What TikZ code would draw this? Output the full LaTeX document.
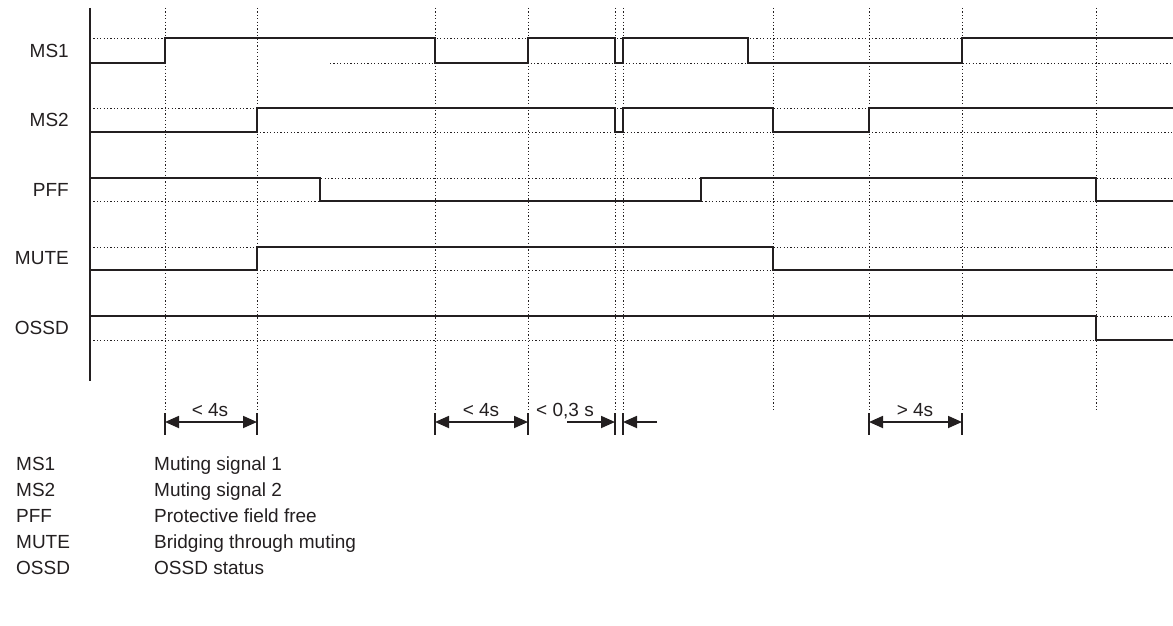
\documentclass[tikz,border=0pt]{standalone}
\usepackage{fontspec}
\setmainfont{Liberation Sans}
\usetikzlibrary{arrows.meta}
\definecolor{ink}{HTML}{231F20}
\begin{document}
\begin{tikzpicture}[x=1pt,y=-1pt,
  sig/.style={line width=1.8pt, draw=ink},
  grid/.style={line width=0.8pt, draw=ink, dash pattern=on 1.2pt off 2.2pt},
  axisline/.style={line width=1.8pt, draw=ink},
  tickbar/.style={line width=1.6pt, draw=ink},
  dimone/.style={line width=1.8pt, draw=ink, -{Triangle[length=14pt,width=12pt]}},
  dimboth/.style={line width=1.8pt, draw=ink, {Triangle[length=14pt,width=12pt]}-{Triangle[length=14pt,width=12pt]}},
  txt/.style={font=\fontsize{19}{22}\selectfont, text=ink, inner sep=0pt},
]
\useasboundingbox (0,0) rectangle (1173,626);

% reference grid
\foreach \x in {165,257,435,528,615,623,773,869,962,1096} \draw[grid] (\x,8) -- (\x,412);
\foreach \y in {38,108,132,178,201,247,270,316,340} \draw[grid] (90,\y) -- (1173,\y);
\draw[grid] (330,63) -- (1173,63);

% axis
\draw[axisline] (90,8) -- (90,381);

% signals
\draw[sig] (90,63) -| (165,38) -| (435,63) -| (528,38) -| (615,63) -| (623,38) -| (748,63) -| (962,38) -- (1173,38);
\draw[sig] (90,132) -| (257,108) -| (615,132) -| (623,108) -| (773,132) -| (869,108) -- (1173,108);
\draw[sig] (90,178) -| (320,201) -| (701,178) -| (1096,201) -- (1173,201);
\draw[sig] (90,270) -| (257,247) -| (773,270) -- (1173,270);
\draw[sig] (90,316) -| (1096,340) -- (1173,340);

% signal labels
\node[txt, anchor=east] (lms1) at (69,50.5) {MS1};
\node[txt, anchor=east] (lms2) at (69,120) {MS2};
\node[txt, anchor=east] (lpff) at (69,189.5) {PFF};
\node[txt, anchor=east] (lmute) at (69,258.5) {MUTE};
\node[txt, anchor=east] (lossd) at (69,328) {OSSD};

% tick bars
\foreach \x/\n in {165/a,257/b,435/c,528/d,615/e,623/f,869/g,962/h} {
  \draw[tickbar] (\x,413) -- (\x,435);
  \coordinate (\n) at (\x,422);
}
\coordinate (f2) at (657,422);
\coordinate (e0) at (567,422);

% dimension arrows
\draw[dimboth] (a) -- (b);
\draw[dimboth] (c) -- (d);
\draw[dimone] (e0) -- (e);
\draw[dimone] (f2) -- (f);
\draw[dimboth] (g) -- (h);

\node[txt, anchor=base] (dab) at (210,416) {< 4s};
\node[txt, anchor=base] (dcd) at (481,416) {< 4s};
\node[txt, anchor=base] (dde) at (565,416) {< 0,3 s};
\node[txt, anchor=base] (dgh) at (915,416) {> 4s};

% legend
\foreach \k/\a/\b in {0/MS1/Muting signal 1,1/MS2/Muting signal 2,2/PFF/Protective field free,3/MUTE/Bridging through muting,4/OSSD/OSSD status} {
  \node[txt, anchor=base west] (abbr\k) at (16,470+26*\k) {\a};
  \node[txt, anchor=base west] (desc\k) at (154,470+26*\k) {\b};
}
\end{tikzpicture}
\end{document}
